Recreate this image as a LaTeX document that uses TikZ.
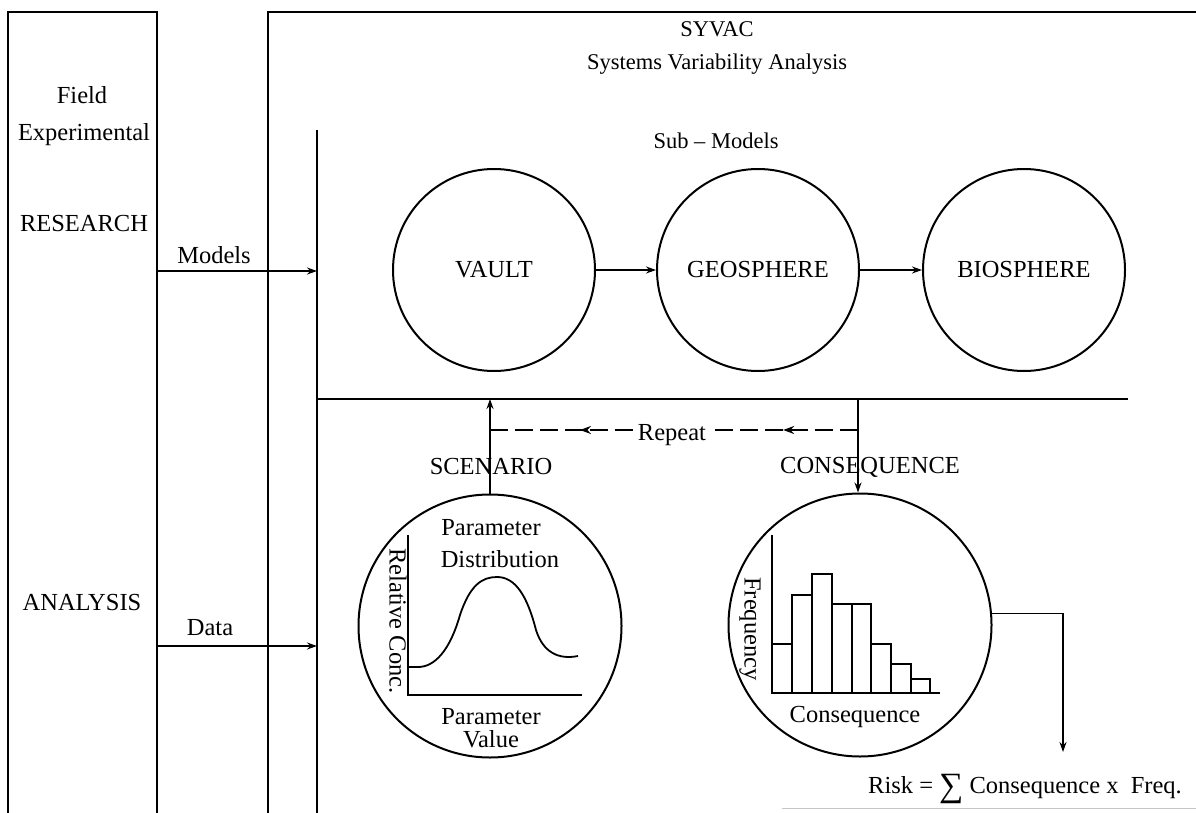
\documentclass[tikz,border=0pt]{standalone}
\usepackage{fontspec}
\setmainfont{Liberation Serif}
\usetikzlibrary{arrows.meta,decorations.markings}

\begin{document}
\begin{tikzpicture}[x=1pt,y=-1pt,
  txt/.style={font=\fontsize{24.5}{26}\selectfont, inner sep=0pt},
  ttl/.style={font=\fontsize{22.5}{24}\selectfont, inner sep=0pt},
  frame/.style={line width=1.8pt},
  thin/.style={line width=1.6pt},
  sphere/.style={circle, draw, line width=2pt, minimum size=202pt, inner sep=0pt,
    font=\fontsize{24.5}{26}\selectfont},
  bigsphere/.style={circle, draw, line width=2pt, minimum size=263pt, inner sep=0pt},
  arr/.style={line width=1.6pt, -{Stealth[length=10pt,width=7pt]}},
  repdash/.style={line width=1.8pt, dash pattern=on 18pt off 7pt,
    postaction={decorate},
    decoration={markings, mark=at position #1 with {\arrow{Stealth[length=11pt,width=8pt]}}}},
]
\useasboundingbox (0,0) rectangle (1196,813);

% outer frames
\draw[frame] (8,813) -- (8,12) -- (157,12) -- (157,813);
\draw[frame] (268,813) -- (268,12) -- (1196,12);
\draw[frame] (317,130) -- (317,813);

% left column labels
\node[txt] (field) at (82,95) {Field};
\node[txt] (exper) at (84,135) {Experimental};
\node[txt] (research) at (84,224) {RESEARCH};
\node[txt] (analysis) at (82,603) {ANALYSIS};

% inputs to the model column
\coordinate (mfrom) at (157,271);
\coordinate (mto) at (317,271);
\coordinate (dfrom) at (157,646);
\coordinate (dto) at (317,646);
\node[txt] (models) at (214,255) {Models};
\node[txt] (data) at (210,628) {Data};
\draw[arr] (mfrom) -- (mto);
\draw[arr] (dfrom) -- (dto);

% titles
\node[ttl] (syvac) at (717,29) {SYVAC};
\node[ttl] (sva) at (717,64) {Systems Variability Analysis};
\node[ttl] (sub) at (716,141) {Sub -- Models};

% sub-model chain
\node[sphere] (vault) at (494,270) {VAULT};
\node[sphere] (geo) at (758,270) {GEOSPHERE};
\node[sphere] (bio) at (1024,270) {BIOSPHERE};
\draw[arr] (vault) -- (geo);
\draw[arr] (geo) -- (bio);

% divider
\coordinate (hl0) at (317,399);
\coordinate (hl1) at (1128,399);
\draw[thin] (hl0) -- (hl1);

% scenario and consequence circles
\node[bigsphere] (scen) at (490,626) {};
\node[bigsphere] (cons) at (860,625) {};
\node[txt] (scenlbl) at (491,467) {SCENARIO};
\node[txt] (conslbl) at (870,467) {CONSEQUENCE};

\coordinate (ctop) at (858,399);
\draw[arr] (scen.north) -- (scen.north |- hl0);
\draw[arr] (ctop) -- (ctop |- cons.north);

% repeat loop
\node[txt, anchor=base] (rep) at (672,440) {Repeat};
\coordinate (rl) at (490,430);
\coordinate (rr) at (858,430);
\draw[repdash=0.37] ([xshift=-5pt]rep.west |- rl) -- (rl);
\draw[repdash=0.51] (rr) -- ([xshift=5pt]rep.east |- rr);

% parameter distribution plot
\draw[thin] (408,535) -- (408,695) -- (582,695);
\draw[line width=1.8pt] (408,667) -- (418,667)
  .. controls (435,667) and (450,650) .. (460,615)
  .. controls (470,585) and (482,577) .. (497,577)
  .. controls (515,577) and (527,595) .. (536,630)
  .. controls (543,652) and (558,660) .. (578,656);
\node[txt] (p1) at (491,528) {Parameter};
\node[txt] (p2) at (500,559) {Distribution};
\node[txt, rotate=-90] (rc) at (398,621) {Relative Conc.};
\node[txt] (p3) at (491,717) {Parameter};
\node[txt] (p4) at (491,739) {Value};

% consequence histogram
\draw[thin] (772,535) -- (772,693) -- (940,693);
\foreach \xa/\xb/\h in {772/792/644, 792/812/595, 812/832/574, 832/852/604,
                        852/871/604, 871/891/644, 891/911/664, 911/930/679}
  \draw[thin] (\xa,693) rectangle (\xb,\h);
\node[txt, rotate=-90] (freq) at (750,629) {Frequency};
\node[txt] (cq) at (855,717) {Consequence};

% risk summation
\node[txt, anchor=base west] (risk) at (868,793)
  {Risk = {\fontsize{34}{34}\selectfont\raisebox{-3pt}{∑}} Consequence x\ \ Freq.};
\coordinate (rtip) at (1063,752);
\draw[arr] (cons.5) -| (rtip);

% faint rule at the foot
\draw[gray!45, line width=1pt] (782,808) -- (1196,808);
\end{tikzpicture}
\end{document}
